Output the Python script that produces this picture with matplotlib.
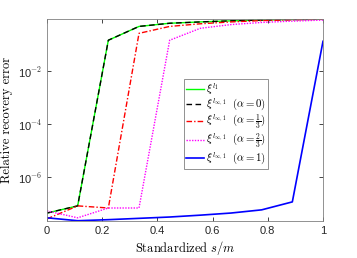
import numpy as np
import matplotlib
matplotlib.use('Agg')
import matplotlib.pyplot as plt

plt.rcParams['mathtext.fontset'] = 'cm'
plt.rcParams['font.family'] = ['Liberation Sans', 'DejaVu Sans']

# x positions: s/m = k/9
s_over_m = [0, 1/9, 2/9, 3/9, 4/9, 5/9, 6/9, 7/9, 8/9, 1]

# log10 of the relative recovery error
log_l1 = [-7.35, -7.08, -0.84, -0.32, -0.20, -0.15, -0.11, -0.08, -0.06, -0.05]
log_a0 = [-7.35, -7.08, -0.84, -0.32, -0.20, -0.15, -0.11, -0.08, -0.06, -0.05]
log_a13 = [-7.57, -7.08, -7.16, -0.58, -0.32, -0.22, -0.15, -0.10, -0.07, -0.05]
log_a23 = [-7.27, -7.53, -7.16, -7.16, -0.84, -0.39, -0.25, -0.17, -0.12, -0.08]
log_a1 = [-7.53, -7.64, -7.60, -7.55, -7.50, -7.43, -7.35, -7.23, -6.93, -0.88]

labels = [r'$\xi^{l_1}$',
          r'$\xi^{l_{\infty,1}}\ \ (\alpha=0)$',
          r'$\xi^{l_{\infty,1}}\ \ (\alpha=\frac{1}{3})$',
          r'$\xi^{l_{\infty,1}}\ \ (\alpha=\frac{2}{3})$',
          r'$\xi^{l_{\infty,1}}\ \ (\alpha=1)$']

fig = plt.figure(figsize=(3.57, 2.58), dpi=100)
ax = fig.add_axes([47/357, 1 - 221/258, 276/357, 202/258])

x = np.array(s_over_m)
ax.semilogy(x, 10**np.array(log_l1), color='#00ff00', lw=1.0, label=labels[0])
ax.semilogy(x, 10**np.array(log_a0), color='black', lw=1.0, ls=(0, (4, 2.5)), label=labels[1])
ax.semilogy(x, 10**np.array(log_a13), color='red', lw=1.0, ls=(0, (4, 1.5, 1, 1.5)), label=labels[2])
ax.semilogy(x, 10**np.array(log_a23), color='magenta', lw=1.0, ls=(0, (1, 1)), label=labels[3])
ax.semilogy(x, 10**np.array(log_a1), color='blue', lw=1.2, label=labels[4])

ax.set_xlim(0, 1)
ax.set_ylim(10**-7.65, 10**-0.04)
ax.set_xticks([0, 0.2, 0.4, 0.6, 0.8, 1])
ax.set_xticklabels(['0', '0.2', '0.4', '0.6', '0.8', '1'])
ax.set_yticks([1e-6, 1e-4, 1e-2])
ax.set_yticklabels([r'10$^{\mathsf{-6}}$', r'10$^{\mathsf{-4}}$', r'10$^{\mathsf{-2}}$'])
ax.minorticks_off()
ax.tick_params(direction='in', length=3, width=0.6, colors='#262626', labelsize=8,
               top=True, right=True)
for sp in ax.spines.values():
    sp.set_color('#808080')
    sp.set_linewidth(0.6)

ax.set_xlabel(r'Standardized $s/m$', fontname='cmr10', fontsize=9, labelpad=2)
ax.set_ylabel('Relative recovery error', fontname='cmr10', fontsize=9, labelpad=3)

leg = ax.legend(loc='upper left', bbox_to_anchor=(0.497, 0.705), fontsize=7.8,
                handlelength=1.6, handletextpad=0.2, labelspacing=0.0,
                borderpad=0.2, borderaxespad=0, fancybox=False, framealpha=1,
                edgecolor='#808080')
leg.get_frame().set_linewidth(0.6)

fig.savefig('out.png', dpi=100)
